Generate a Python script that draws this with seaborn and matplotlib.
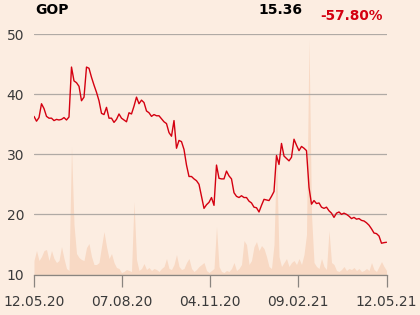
import numpy as np
import matplotlib
matplotlib.use("Agg")
import matplotlib.pyplot as plt
import seaborn as sns

# ---- data ----
ticker = "GOP"
last_price = "15.36"
change = "-57.80%"
tick_labels = ["12.05.20", "07.08.20", "04.11.20", "09.02.21", "12.05.21"]
n_trading_days = 252

price = [
    36.3, 35.5, 36.1, 38.4, 37.6, 36.3, 36.0, 36.0, 35.6, 35.8,
    35.7, 35.8, 36.1, 35.7, 36.2, 44.5, 42.2, 41.9, 41.3, 38.9,
    39.5, 44.5, 44.3, 42.8, 41.5, 40.3, 38.9, 36.8, 36.6, 37.8,
    36.0, 36.0, 35.3, 35.8, 36.7, 36.0, 35.7, 35.4, 36.9, 36.7,
    38.0, 39.5, 38.4, 39.0, 38.6, 37.2, 36.9, 36.3, 36.6, 36.4,
    36.4, 35.9, 35.4, 35.1, 33.6, 33.0, 35.6, 31.0, 32.3, 32.1,
    30.8, 28.2, 26.3, 26.3, 25.9, 25.6, 25.0, 23.0, 21.0, 21.6,
    22.0, 22.8, 21.5, 28.2, 26.0, 25.9, 25.9, 27.2, 26.4, 25.9,
    23.6, 23.0, 22.8, 23.1, 22.8, 22.8, 22.2, 21.9, 21.2, 21.1,
    20.4, 21.5, 22.5, 22.4, 22.3, 23.0, 23.8, 29.8, 28.3, 31.8,
    29.7, 29.3, 28.9, 29.5, 32.5, 31.5, 30.6, 31.3, 31.0, 30.6,
    24.5, 21.7, 22.3, 21.8, 21.9, 21.2, 21.0, 21.2, 20.6, 20.2,
    19.5, 20.2, 20.4, 20.0, 20.2, 20.0, 19.7, 19.3, 19.5, 19.2,
    19.3, 19.0, 18.9, 18.6, 18.2, 17.6, 16.9, 16.8, 16.4, 15.2,
    15.3, 15.36,
]

volume = [
    14, 24, 14, 18, 24, 25, 14, 24, 16, 12,
    14, 28, 16, 6, 4, 128, 50, 21, 17, 15,
    14, 27, 31, 18, 10, 10, 12, 28, 43, 28,
    16, 21, 12, 7, 6, 2, 3, 5, 4, 3,
    73, 15, 4, 6, 11, 5, 7, 4, 6, 5,
    3, 6, 8, 16, 6, 5, 10, 20, 8, 5,
    6, 12, 16, 6, 3, 5, 8, 10, 12, 4,
    2, 4, 6, 48, 8, 3, 2, 4, 3, 6,
    12, 4, 6, 10, 34, 30, 10, 14, 28, 33,
    24, 29, 26, 18, 8, 6, 30, 120, 18, 8,
    12, 16, 8, 12, 14, 10, 16, 10, 20, 40,
    236, 60, 12, 8, 6, 16, 8, 5, 44, 12,
    10, 4, 3, 5, 8, 4, 6, 5, 7, 4,
    6, 3, 4, 6, 4, 12, 5, 3, 8, 13,
    8, 4,
]

# ---- style ----
bg = "#fcede1"
area_col = "#f8d9c4"
red = "#d40010"
grid_col = "#b0aaa5"
text_col = "#3a3a3a"

sns.set_theme(style="white")
plt.rcParams["font.family"] = ["DejaVu Sans"]

x = np.linspace(0, n_trading_days, len(price))

fig = plt.figure(figsize=(4.2, 3.15), dpi=100, facecolor=bg)
ax = fig.add_axes([34 / 420, 40.5 / 315, 352.5 / 420, 240.5 / 315])
axv = ax.twinx()

axv.fill_between(x, 0, volume, color=area_col, lw=0)
axv.set_ylim(0, 241)
axv.axis("off")
axv.patch.set_visible(False)

ax.set_zorder(axv.get_zorder() + 1)
ax.patch.set_visible(False)

sns.lineplot(x=x, y=price, ax=ax, color=red, lw=1.0)

ax.set_xlim(0, n_trading_days)
ax.set_ylim(10, 50)
ax.set_yticks([10, 20, 30, 40, 50])
ax.set_xticks(np.linspace(0, n_trading_days, len(tick_labels)))
ax.set_xticklabels(tick_labels)
ax.yaxis.grid(True, color=grid_col, lw=0.9)
ax.xaxis.grid(False)
for s in ["left", "right", "top"]:
    ax.spines[s].set_visible(False)
ax.spines["bottom"].set_color("#8a8580")
ax.spines["bottom"].set_linewidth(0.9)
ax.tick_params(axis="x", length=8.5, width=0.9, color="#8a8580",
               labelsize=10, labelcolor=text_col, pad=6, direction="out", bottom=True)
ax.tick_params(axis="y", length=0, labelsize=10, labelcolor=text_col, pad=7)
ax.set_xlabel("")
ax.set_ylabel("")

fig.text(35 / 420, 1 - 10.5 / 315, ticker, fontsize=10, fontweight="bold",
         color="black", ha="left", va="center")
fig.text(302 / 420, 1 - 10.5 / 315, last_price, fontsize=10, fontweight="bold",
         color="black", ha="right", va="center")
fig.text(320 / 420, 1 - 16 / 315, change, fontsize=9.8, fontweight="bold",
         color=red, ha="left", va="center")

fig.savefig("out.png", dpi=100, facecolor=bg)
